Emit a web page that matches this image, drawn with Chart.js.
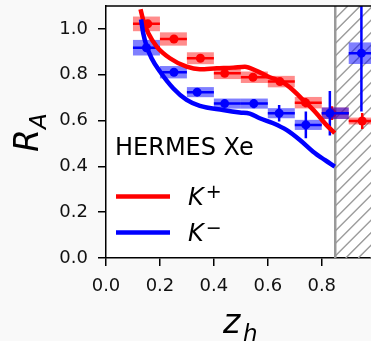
<!DOCTYPE html>
<html>
<head>
<meta charset="utf-8">
<script src="https://cdn.jsdelivr.net/npm/chart.js@4.4.1/dist/chart.umd.min.js"></script>
<style>
  html, body { margin: 0; padding: 0; background: #f9f9f9; overflow: hidden; }
  #wrap { width: 380px; height: 341px; }
</style>
</head>
<body>
<div id="wrap"><canvas id="chartRA" width="380" height="341"></canvas></div>
<script>
const FONT = "'DejaVu Sans', sans-serif"

// z_h bins of the measurement
const binLo = [0.1, 0.2, 0.3, 0.4, 0.5, 0.6, 0.7, 0.8, 0.9]
const binHi = [0.2, 0.3, 0.4, 0.5, 0.6, 0.7, 0.8, 0.9, 1.0]

// K+ data: mean z_h, R_A, stat error, sys error (box)
const kpX = [0.155, 0.252, 0.35, 0.44, 0.545, 0.645, 0.74, 0.838, 0.95]
const kpY = [1.022, 0.956, 0.872, 0.806, 0.789, 0.770, 0.678, 0.632, 0.598]
const kpStat = [0.015, 0.015, 0.015, 0.015, 0.015, 0.015, 0.02, 0.03, 0.035]
const kpSys = [0.032, 0.029, 0.026, 0.025, 0.025, 0.025, 0.025, 0.025, 0.015]

// K- data
const kmX = [0.15, 0.252, 0.338, 0.44, 0.548, 0.642, 0.741, 0.83, 0.947]
const kmY = [0.918, 0.811, 0.724, 0.674, 0.674, 0.632, 0.581, 0.632, 0.894]
const kmStat = [0.015, 0.015, 0.012, 0.015, 0.02, 0.036, 0.058, 0.097, 0.255]
const kmSys = [0.034, 0.027, 0.022, 0.022, 0.022, 0.022, 0.022, 0.025, 0.047]

// model curves
const kpCurveX = [0.128, 0.138, 0.157, 0.188, 0.237, 0.299, 0.348, 0.41, 0.472, 0.515, 0.558, 0.607, 0.651, 0.681, 0.731, 0.78, 0.817, 0.848]
const kpCurveY = [1.086, 1.039, 0.981, 0.923, 0.872, 0.835, 0.824, 0.828, 0.831, 0.835, 0.817, 0.789, 0.770, 0.745, 0.690, 0.632, 0.581, 0.545]
const kmCurveX = [0.13, 0.138, 0.151, 0.169, 0.2, 0.249, 0.299, 0.348, 0.434, 0.496, 0.533, 0.57, 0.62, 0.669, 0.719, 0.768, 0.811, 0.848]
const kmCurveY = [1.042, 0.981, 0.923, 0.872, 0.814, 0.741, 0.690, 0.664, 0.646, 0.635, 0.630, 0.610, 0.588, 0.559, 0.515, 0.464, 0.428, 0.399]

const yTicks = [0, 0.2, 0.4, 0.6, 0.8, 1.0]
const shadeFrom = 0.85 // excluded region

function toXY(xs, ys) {
  return xs.map((x, i) => ({ x: x, y: ys[i] }))
}

// sys boxes + error bars, drawn just before each points dataset
const errorBoxes = {
  id: 'errorBoxes',
  beforeDatasetDraw(chart, args) {
    const ds = chart.data.datasets[args.index]
    if (!ds.sys) return
    const ctx = chart.ctx, xs = chart.scales.x, ys = chart.scales.y, a = chart.chartArea
    ctx.save()
    ctx.beginPath()
    ctx.rect(a.left, a.top, a.right - a.left, a.bottom - a.top)
    ctx.clip()
    ds.data.forEach((p, i) => {
      const l = xs.getPixelForValue(binLo[i]), r = xs.getPixelForValue(binHi[i])
      const t = ys.getPixelForValue(p.y + ds.sys[i]), b = ys.getPixelForValue(p.y - ds.sys[i])
      ctx.fillStyle = ds.boxColor
      ctx.fillRect(l, t, r - l, b - t)
      const px = xs.getPixelForValue(p.x), py = ys.getPixelForValue(p.y)
      ctx.strokeStyle = ds.pointBackgroundColor
      ctx.lineWidth = 2.5
      ctx.beginPath()
      ctx.moveTo(l, py); ctx.lineTo(r, py)
      ctx.moveTo(px, ys.getPixelForValue(p.y + ds.stat[i]))
      ctx.lineTo(px, ys.getPixelForValue(p.y - ds.stat[i]))
      ctx.stroke()
    })
    ctx.restore()
  }
}

const frame = {
  id: 'frame',
  beforeDraw(chart) {
    const ctx = chart.ctx, a = chart.chartArea
    ctx.save()
    ctx.fillStyle = '#ffffff'
    ctx.fillRect(a.left, a.top, a.right - a.left, a.bottom - a.top)
    ctx.restore()
  },
  beforeDatasetsDraw(chart) {
    // hatched region, '/' lines rising from the bottom edge
    const ctx = chart.ctx, a = chart.chartArea
    const x0 = chart.scales.x.getPixelForValue(shadeFrom)
    const w = a.right - x0, h = a.bottom - a.top
    ctx.save()
    ctx.beginPath()
    ctx.rect(x0, a.top, w, h)
    ctx.clip()
    ctx.strokeStyle = '#9c9c9c'
    ctx.lineWidth = 1.5
    ctx.beginPath()
    for (let k = -h - 12.5; k < w + 12.5; k += 12.5) {
      ctx.moveTo(x0 + k, a.bottom)
      ctx.lineTo(x0 + k + h, a.top)
    }
    ctx.stroke()
    ctx.restore()
    ctx.save()
    ctx.strokeStyle = '#999999'
    ctx.lineWidth = 2.5
    ctx.beginPath()
    ctx.moveTo(x0, a.top); ctx.lineTo(x0, a.bottom)
    ctx.stroke()
    ctx.restore()
  },
  afterDraw(chart) {
    const ctx = chart.ctx, a = chart.chartArea
    ctx.save()
    // top / right spines
    ctx.strokeStyle = '#000'
    ctx.lineWidth = 1.5
    ctx.beginPath()
    ctx.moveTo(a.left, a.top); ctx.lineTo(a.right, a.top); ctx.lineTo(a.right, a.bottom)
    ctx.stroke()

    // legend
    ctx.fillStyle = '#000'
    ctx.textBaseline = 'alphabetic'
    ctx.font = '24px ' + FONT
    ctx.fillText('HERMES Xe', 115, 155)
    const rows = [['#ff0000', '+', 196.5], ['#0000ff', '\u2212', 232.5]]
    rows.forEach(r => {
      ctx.strokeStyle = r[0]
      ctx.lineWidth = 4.5
      ctx.beginPath(); ctx.moveTo(116, r[2]); ctx.lineTo(170, r[2]); ctx.stroke()
      ctx.font = 'italic 24px ' + FONT
      ctx.fillText('K', 188, r[2] + 8.5)
      const w = ctx.measureText('K').width
      ctx.font = '19px ' + FONT
      ctx.fillText(r[1], 188 + w + 2, r[2] + 1)
    })

    // axis titles
    ctx.font = 'italic 33px ' + FONT
    ctx.fillText('z', 223, 333)
    ctx.font = 'italic 23px ' + FONT
    ctx.fillText('h', 243, 340.5)

    ctx.translate(38, 152)
    ctx.rotate(-Math.PI / 2)
    ctx.font = 'italic 33px ' + FONT
    ctx.fillText('R', 0, 0)
    const rw = ctx.measureText('R').width
    ctx.font = 'italic 23px ' + FONT
    ctx.fillText('A', rw, 7.5)
    ctx.restore()
  }
}

const ctxRA = document.getElementById('chartRA')

new Chart(ctxRA, {
  data: {
    datasets: [
      {
        type: 'line',
        label: 'K- model',
        data: toXY(kmCurveX, kmCurveY),
        borderColor: '#0000ff',
        borderWidth: 4.5,
        pointRadius: 0,
        cubicInterpolationMode: 'monotone',
        order: 0
      },
      {
        type: 'line',
        label: 'K+ model',
        data: toXY(kpCurveX, kpCurveY),
        borderColor: '#ff0000',
        borderWidth: 4.5,
        pointRadius: 0,
        cubicInterpolationMode: 'monotone',
        order: 1
      },
      {
        type: 'scatter',
        label: 'K- data',
        data: toXY(kmX, kmY),
        pointRadius: 4.5,
        pointBorderWidth: 0,
        pointBackgroundColor: '#0000ff',
        boxColor: 'rgba(0, 0, 255, 0.5)',
        sys: kmSys,
        stat: kmStat,
        order: 2
      },
      {
        type: 'scatter',
        label: 'K+ data',
        data: toXY(kpX, kpY),
        pointRadius: 4.5,
        pointBorderWidth: 0,
        pointBackgroundColor: '#ff0000',
        boxColor: 'rgba(255, 0, 0, 0.45)',
        sys: kpSys,
        stat: kpStat,
        order: 3
      }
    ]
  },
  options: {
    responsive: false,
    animation: false,
    layout: { padding: { left: 0, top: 6, right: 7, bottom: 0 } },
    plugins: { legend: { display: false }, tooltip: { enabled: false } },
    scales: {
      x: {
        type: 'linear',
        min: 0,
        max: 0.99,
        border: { color: '#000', width: 1.5 },
        grid: { drawOnChartArea: false, color: '#000', tickLength: 8, lineWidth: 1.5 },
        ticks: {
          stepSize: 0.2,
          includeBounds: false,
          maxRotation: 0,
          padding: 10,
          color: '#111',
          font: { family: FONT, size: 18 },
          callback: v => v.toFixed(1)
        },
        afterFit: s => { s.height = 83; s.paddingLeft = 0; s.paddingRight = 0 }
      },
      y: {
        type: 'linear',
        min: 0,
        max: 1.1,
        border: { color: '#000', width: 1.5 },
        grid: { drawOnChartArea: false, color: '#000', tickLength: 8, lineWidth: 1.5 },
        afterBuildTicks: s => { s.ticks = yTicks.map(v => ({ value: v })) },
        ticks: {
          padding: 10,
          color: '#111',
          font: { family: FONT, size: 18 },
          callback: v => v.toFixed(1)
        },
        afterFit: s => { s.width = 106; s.paddingTop = 0; s.paddingBottom = 0 }
      }
    }
  },
  plugins: [frame, errorBoxes]
})
</script>
</body>
</html>
